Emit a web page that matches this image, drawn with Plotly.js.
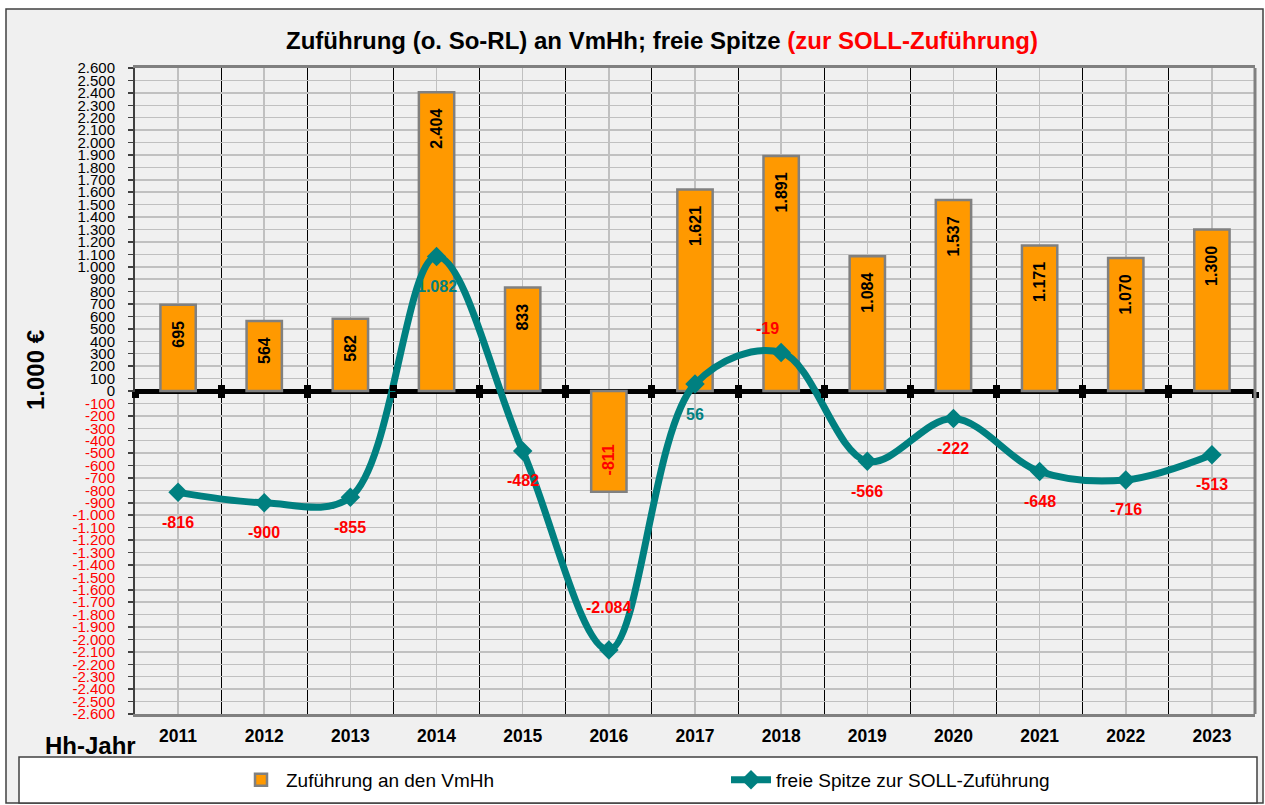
<!DOCTYPE html>
<html>
<head>
<meta charset="utf-8">
<script src="https://cdn.plot.ly/plotly-3.0.1.min.js"></script>
<style>html,body{margin:0;padding:0;background:#fff;}#chart{width:1265px;height:805px;}</style>
</head>
<body>
<div id="chart"></div>
<script>
// ---- data ----
const years = [2011, 2012, 2013, 2014, 2015, 2016, 2017, 2018, 2019, 2020, 2021, 2022, 2023];
const zufuehrung = [695, 564, 582, 2404, 833, -811, 1621, 1891, 1084, 1537, 1171, 1070, 1300];
const freieSpitze = [-816, -900, -855, 1082, -482, -2084, 56, 310, -566, -222, -648, -716, -513];
const freieSpitzeLabels = ['-816', '-900', '-855', '1.082', '-482', '-2.084', '56', '-19', '-566', '-222', '-648', '-716', '-513'];
const labelsAbove = [2016, 2018];
const seriesNames = ['Zuführung an den VmHh', 'freie Spitze zur SOLL-Zuführung'];
const yMin = -2600, yMax = 2600, yStep = 100;

function fmt(v) {
  const s = Math.abs(v).toString().replace(/\B(?=(\d{3})+(?!\d))/g, '.');
  return (v < 0 ? '-' : '') + s;
}
const yTickVals = [];
for (let v = yMin; v <= yMax; v += yStep) yTickVals.push(v);
const yTickText = yTickVals.map(v => v < 0 ? '<span style="color:#FF0000">' + fmt(v) + '</span>' : fmt(v));
const boundaries = years.map(y => y - 0.5).concat([years[years.length - 1] + 0.5]);

const W = 1265, H = 805;
const M = {l: 135, r: 10, t: 68, b: 91, autoexpand: false};
const pw = W - M.l - M.r, ph = H - M.t - M.b;
const px = x => (x - M.l) / pw;
const py = y => (H - M.b - y) / ph;

const FONT = 'Liberation Sans, Arial, sans-serif';
const RED = '#FF0000', TEAL = '#008080';
const PAD = '\u00A0\u00A0\u00A0';

const traces = [
  {
    type: 'bar', name: seriesNames[0], x: years, y: zufuehrung,
    width: 0.41,
    marker: {color: '#FF9900', line: {color: '#808080', width: 2.5}},
    text: zufuehrung.map(v => v < 0 ? PAD + fmt(v) : fmt(v) + PAD),
    textposition: 'inside', insidetextanchor: 'end',
    textangle: -90, constraintext: 'none',
    textfont: {family: FONT, size: 16, weight: 'bold', color: zufuehrung.map(v => v < 0 ? RED : '#000000')},
    hoverinfo: 'x+y'
  },
  {
    type: 'scatter', mode: 'lines+markers', name: seriesNames[1], x: years, y: freieSpitze,
    line: {color: TEAL, width: 7, shape: 'spline', smoothing: 1},
    marker: {symbol: 'diamond', size: 15, color: TEAL},
    cliponaxis: false
  },
  {type: 'scatter', x: [years[0]], y: [0], xaxis: 'x2', mode: 'none', showlegend: false, hoverinfo: 'skip'},
  {type: 'scatter', x: [years[0]], y: [0], xaxis: 'x3', mode: 'none', showlegend: false, hoverinfo: 'skip'}
];

const lineAnnotations = years.map((yr, i) => {
  const above = labelsAbove.includes(yr);
  return {
    x: yr, y: freieSpitze[i], xref: 'x', yref: 'y', showarrow: false,
    text: '<b>' + freieSpitzeLabels[i] + '</b>',
    font: {family: FONT, size: 16, color: freieSpitzeLabels[i].startsWith('-') ? RED : TEAL},
    xanchor: 'center', yanchor: 'middle',
    yshift: above ? (yr === 2016 ? 42 : 24) : -30,
    xshift: yr === 2018 ? -14 : 0
  };
});

const axTicks = (side) => ({
  overlaying: 'x', anchor: 'free', position: 0.5, side: 'bottom',
  range: [years[0] - 0.5, years[years.length - 1] + 0.5],
  tickvals: boundaries,
  ticks: side, ticklen: 6, tickwidth: 7, tickcolor: '#000000',
  showticklabels: false, showgrid: false, showline: false, zeroline: false
});

const layout = {
  width: W, height: H,
  margin: M,
  paper_bgcolor: '#FFFFFF',
  plot_bgcolor: '#FFFFCC',
  separators: ',.',
  showlegend: true,
  font: {family: FONT, color: '#000000'},
  title: {
    text: '<b>Zuführung (o. So-RL) an VmHh; freie Spitze <span style="color:#FF0000">(zur SOLL-Zuführung)</span></b>',
    font: {family: FONT, size: 24, color: '#000000'},
    xref: 'container', x: 662 / W, xanchor: 'center',
    yref: 'container', y: 1 - 41 / H, yanchor: 'middle'
  },
  xaxis: {
    range: [years[0] - 0.5, years[years.length - 1] + 0.5],
    tickvals: years, ticktext: years.map(String),
    showgrid: true, gridcolor: '#C0C0C0', gridwidth: 1.5,
    minor: {tickvals: boundaries, showgrid: true, gridcolor: '#000000', gridwidth: 1, ticks: ''},
    ticks: '', showline: true, linecolor: '#808080', linewidth: 3, mirror: true,
    tickfont: {family: FONT, size: 17.5, weight: 'bold'},
    ticklabelstandoff: 4,
    fixedrange: true, zeroline: false
  },
  xaxis2: axTicks('inside'),
  xaxis3: axTicks('outside'),
  yaxis: {
    range: [yMin, yMax], tickvals: yTickVals, ticktext: yTickText,
    showgrid: true, gridcolor: '#C0C0C0', gridwidth: 1.5,
    zeroline: true, zerolinecolor: '#000000', zerolinewidth: 5,
    ticks: 'outside', ticklen: 5, tickcolor: '#404040', tickwidth: 1.5,
    showline: true, linecolor: '#404040', linewidth: 2,
    tickfont: {family: FONT, size: 15, color: '#000000'},
    ticklabelstandoff: 10,
    fixedrange: true
  },
  legend: {
    orientation: 'h', x: px(236), xanchor: 'left', y: py(780), yanchor: 'middle',
    bgcolor: 'rgba(0,0,0,0)', font: {family: FONT, size: 19, color: '#000000'},
    entrywidth: 435, entrywidthmode: 'pixels', itemwidth: 40, traceorder: 'normal'
  },
  shapes: [
    {type: 'rect', xref: 'paper', yref: 'paper', x0: px(6), x1: px(1263), y0: py(9), y1: py(803),
     fillcolor: '#F0F0F0', line: {color: '#404040', width: 1.5}, layer: 'below'},
    {type: 'rect', xref: 'paper', yref: 'paper', x0: px(19), x1: px(1257), y0: py(757), y1: py(803),
     fillcolor: '#FFFFFF', line: {color: '#404040', width: 1.5}, layer: 'below'},
    {type: 'line', xref: 'paper', yref: 'paper', x0: 1, x1: 1, y0: 0, y1: 1,
     line: {color: '#808080', width: 3}}
  ],
  annotations: [
    {text: '<b>1.000 €</b>', xref: 'paper', yref: 'paper', x: px(35), y: py(370), textangle: -90,
     showarrow: false, font: {family: FONT, size: 24}, xanchor: 'center', yanchor: 'middle'},
    {text: '<b>Hh-Jahr</b>', xref: 'paper', yref: 'paper', x: px(90), y: py(745),
     showarrow: false, font: {family: FONT, size: 24}, xanchor: 'center', yanchor: 'middle'}
  ].concat(lineAnnotations)
};

Plotly.newPlot('chart', traces, layout, {displayModeBar: false, staticPlot: true});
</script>
</body>
</html>
